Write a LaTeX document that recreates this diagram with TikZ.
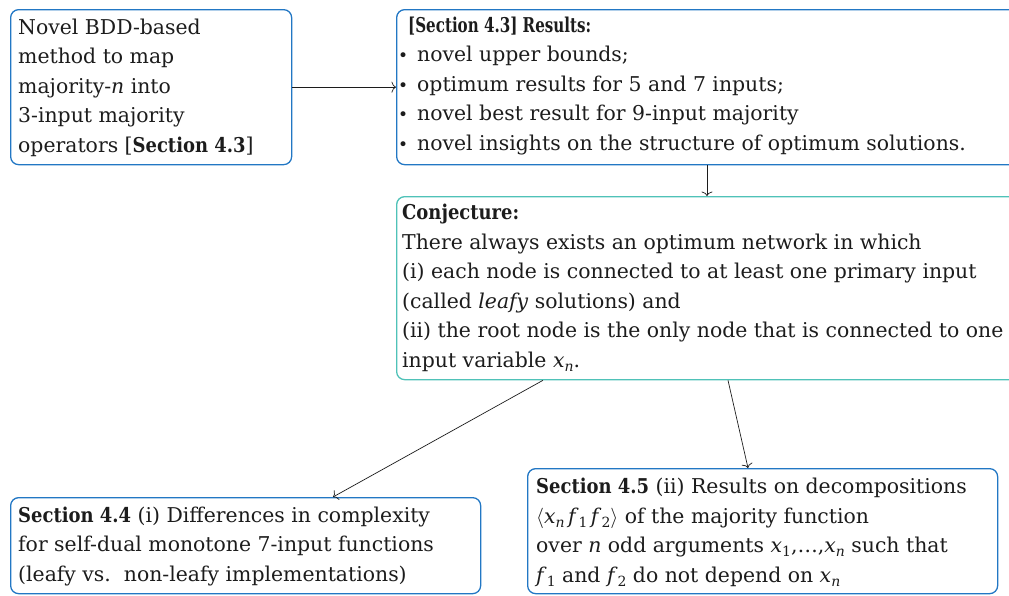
\RequirePackage{fix-cm}
\documentclass[tikz,border=0pt]{standalone}
\usepackage{fontspec}
\setmainfont{DejaVu Serif}
\usetikzlibrary{arrows.meta}

\definecolor{boxblue}{HTML}{2277C4}
\definecolor{boxteal}{HTML}{4FC2B8}
\definecolor{ink}{HTML}{1C1C1C}

% italic variable with a lowered index
\newcommand\vx[2]{\textit{#1}\raisebox{-0.22em}{\fontsize{14}{14}\selectfont #2}}
\newcommand\smallbullet{\makebox[19pt][l]{\fontsize{17}{17}\selectfont\textbullet}}
% slightly narrower bold for headings
\newcommand\hd[1]{\scalebox{0.88}[1]{\textbf{#1}}}

\tikzset{
  panel/.style={draw=#1, line width=1.3pt, rounded corners=8pt, inner sep=0pt,
                anchor=north west, rectangle},
  % anchored at the baseline of the last line
  txt/.style={anchor=base west, inner sep=0pt, align=left, text=ink,
              font=\fontsize{20.4}{29.5}\selectfont},
  link/.style={draw=ink, line width=0.7pt, -{To[length=4.5pt,width=11pt]}},
}

\begin{document}
\begin{tikzpicture}[x=1pt, y=-1pt]
\path[use as bounding box, clip] (0,0) rectangle (1009,595);

% frames
\node[panel=boxblue, minimum width=281pt, minimum height=155pt] (b1) at (10,9) {};
\node[panel=boxblue, minimum width=644pt, minimum height=155pt] (b2) at (396,9) {};
\node[panel=boxteal, minimum width=644pt, minimum height=183pt] (b3) at (396,196) {};
\node[panel=boxblue, minimum width=470pt, minimum height=96pt]  (b4) at (10,497) {};
\node[panel=boxblue, minimum width=470pt, minimum height=125pt] (b5) at (527,468) {};

% texts
\node[txt] (t1) at (18,152) {Novel BDD-based\\ method to map\\ majority-\textit{n} into\\ 3-input majority\\ operators [\hd{Section 4.3}]};
\node[txt] (t2) at (398,150) {\hspace*{10pt}\scalebox{0.74}[1]{\textbf{[Section 4.3] Results:}}\\
  \smallbullet novel upper bounds;\\
  \smallbullet optimum results for 5 and 7 inputs;\\
  \smallbullet novel best result for 9-input majority\\
  \smallbullet novel insights on the structure of optimum solutions.};
\node[txt] (t3) at (402,367) {\hd{Conjecture:}\\
  There always exists an optimum network in which\\
  (i) each node is connected to at least one primary input\\
  (called \textit{leafy} solutions) and\\
  (ii) the root node is the only node that is connected to one\\
  input variable \vx{x}{\textit{n}}.};
\node[txt] (t4) at (18,581) {\hd{Section 4.4} (i) Differences in complexity\\
  for self-dual monotone 7-input functions\\
  (leafy vs.\ \ non-leafy implementations)};
\node[txt] (t5) at (536,582) {\hd{Section 4.5} (ii) Results on decompositions\\
  $\langle$\vx{x}{\textit{n}}\,\vx{f}{1}\,\vx{f}{2}$\rangle$ of the majority function\\
  over \textit{n} odd arguments \vx{x}{1},\ldots,\vx{x}{\textit{n}} such that\\
  \vx{f}{1} and \vx{f}{2} do not depend on \vx{x}{\textit{n}}};

% connectors
\draw[link] (b1) -- (b2);
\draw[link] ([xshift=311pt]b2.south west) -- ([xshift=311pt]b3.north west);
\draw[link] ([xshift=147pt]b3.south west) -- ([xshift=323pt]b4.north west);
\draw[link] ([xshift=332pt]b3.south west) -- ([xshift=221pt]b5.north west);
\end{tikzpicture}
\end{document}
